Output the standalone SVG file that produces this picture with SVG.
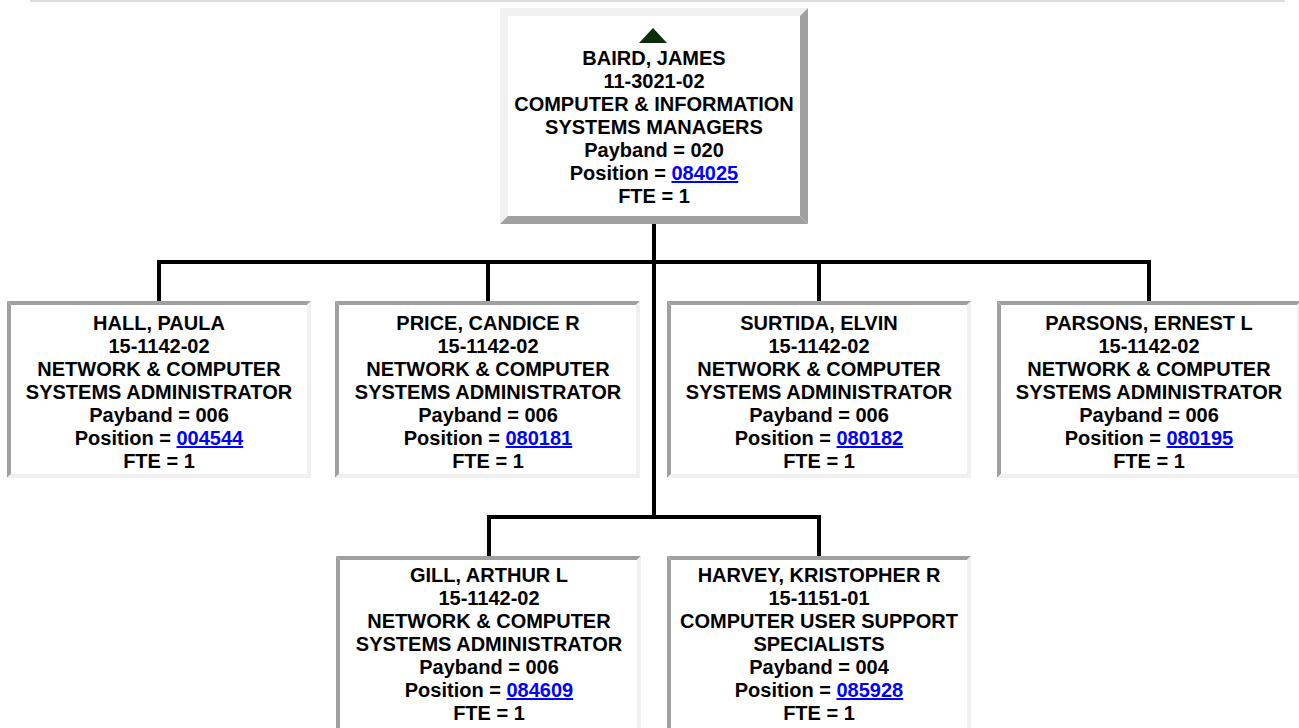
<svg xmlns="http://www.w3.org/2000/svg" width="1299" height="728" viewBox="0 0 1299 728">
<style>
.lt{fill:#f0f0f0}
.dk{fill:#a0a0a0}
.bg{fill:#ffffff}
text{font-family:"Liberation Sans",Arial,sans-serif;font-weight:bold;font-size:20px;fill:#000;text-anchor:middle}
.lnk{fill:#0000ff;text-decoration:underline}
.wire{stroke:#000;stroke-width:4;fill:none}
</style>
<rect x="30" y="0" width="1255" height="2" fill="#dddddd"/>
<g id="connectors">
<line class="wire" x1="654" y1="224" x2="654" y2="519"/>
<line class="wire" x1="157" y1="262" x2="1151" y2="262"/>
<line class="wire" x1="159" y1="262" x2="159" y2="301"/>
<line class="wire" x1="488" y1="262" x2="488" y2="301"/>
<line class="wire" x1="819" y1="262" x2="819" y2="301"/>
<line class="wire" x1="1149" y1="262" x2="1149" y2="301"/>
<line class="wire" x1="487" y1="517" x2="821" y2="517"/>
<line class="wire" x1="489" y1="517" x2="489" y2="556"/>
<line class="wire" x1="819" y1="517" x2="819" y2="556"/>
</g>
<g id="baird">
<rect class="bg" x="500" y="8" width="308" height="216"/>
<polygon class="lt" points="500,8 808,8 800,16 508,16"/>
<polygon class="lt" points="500,8 508,16 508,216 500,224"/>
<polygon class="dk" points="500,224 508,216 800,216 808,224"/>
<polygon class="dk" points="808,8 808,224 800,216 800,16"/>
<polygon points="639,43 653,28 667,43" fill="#0b2e0b"/>
<text x="654" y="65">BAIRD, JAMES</text>
<text x="654" y="88">11-3021-02</text>
<text x="654" y="111">COMPUTER &amp; INFORMATION</text>
<text x="654" y="134">SYSTEMS MANAGERS</text>
<text x="654" y="157">Payband = 020</text>
<text x="654" y="180">Position = <tspan class="lnk">084025</tspan></text>
<text x="654" y="203">FTE = 1</text>
</g>
<g id="hall">
<rect class="bg" x="7" y="301" width="304" height="177"/>
<polygon class="dk" points="7,301 311,301 307,305 11,305"/>
<polygon class="dk" points="7,301 11,305 11,474 7,478"/>
<polygon class="lt" points="7,478 11,474 307,474 311,478"/>
<polygon class="lt" points="311,301 311,478 307,474 307,305"/>
<text x="159" y="330">HALL, PAULA</text>
<text x="159" y="353">15-1142-02</text>
<text x="159" y="376">NETWORK &amp; COMPUTER</text>
<text x="159" y="399">SYSTEMS ADMINISTRATOR</text>
<text x="159" y="422">Payband = 006</text>
<text x="159" y="445">Position = <tspan class="lnk">004544</tspan></text>
<text x="159" y="468">FTE = 1</text>
</g>
<g id="price">
<rect class="bg" x="335" y="301" width="305" height="177"/>
<polygon class="dk" points="335,301 640,301 636,305 339,305"/>
<polygon class="dk" points="335,301 339,305 339,474 335,478"/>
<polygon class="lt" points="335,478 339,474 636,474 640,478"/>
<polygon class="lt" points="640,301 640,478 636,474 636,305"/>
<text x="488" y="330">PRICE, CANDICE R</text>
<text x="488" y="353">15-1142-02</text>
<text x="488" y="376">NETWORK &amp; COMPUTER</text>
<text x="488" y="399">SYSTEMS ADMINISTRATOR</text>
<text x="488" y="422">Payband = 006</text>
<text x="488" y="445">Position = <tspan class="lnk">080181</tspan></text>
<text x="488" y="468">FTE = 1</text>
</g>
<g id="surtida">
<rect class="bg" x="667" y="301" width="304" height="177"/>
<polygon class="dk" points="667,301 971,301 967,305 671,305"/>
<polygon class="dk" points="667,301 671,305 671,474 667,478"/>
<polygon class="lt" points="667,478 671,474 967,474 971,478"/>
<polygon class="lt" points="971,301 971,478 967,474 967,305"/>
<text x="819" y="330">SURTIDA, ELVIN</text>
<text x="819" y="353">15-1142-02</text>
<text x="819" y="376">NETWORK &amp; COMPUTER</text>
<text x="819" y="399">SYSTEMS ADMINISTRATOR</text>
<text x="819" y="422">Payband = 006</text>
<text x="819" y="445">Position = <tspan class="lnk">080182</tspan></text>
<text x="819" y="468">FTE = 1</text>
</g>
<g id="parsons">
<rect class="bg" x="997" y="301" width="304" height="177"/>
<polygon class="dk" points="997,301 1301,301 1297,305 1001,305"/>
<polygon class="dk" points="997,301 1001,305 1001,474 997,478"/>
<polygon class="lt" points="997,478 1001,474 1297,474 1301,478"/>
<polygon class="lt" points="1301,301 1301,478 1297,474 1297,305"/>
<text x="1149" y="330">PARSONS, ERNEST L</text>
<text x="1149" y="353">15-1142-02</text>
<text x="1149" y="376">NETWORK &amp; COMPUTER</text>
<text x="1149" y="399">SYSTEMS ADMINISTRATOR</text>
<text x="1149" y="422">Payband = 006</text>
<text x="1149" y="445">Position = <tspan class="lnk">080195</tspan></text>
<text x="1149" y="468">FTE = 1</text>
</g>
<g id="gill">
<rect class="bg" x="336" y="556" width="305" height="177"/>
<polygon class="dk" points="336,556 641,556 637,560 340,560"/>
<polygon class="dk" points="336,556 340,560 340,729 336,733"/>
<polygon class="lt" points="641,556 641,733 637,729 637,560"/>
<text x="489" y="582">GILL, ARTHUR L</text>
<text x="489" y="605">15-1142-02</text>
<text x="489" y="628">NETWORK &amp; COMPUTER</text>
<text x="489" y="651">SYSTEMS ADMINISTRATOR</text>
<text x="489" y="674">Payband = 006</text>
<text x="489" y="697">Position = <tspan class="lnk">084609</tspan></text>
<text x="489" y="720">FTE = 1</text>
</g>
<g id="harvey">
<rect class="bg" x="667" y="556" width="304" height="177"/>
<polygon class="dk" points="667,556 971,556 967,560 671,560"/>
<polygon class="dk" points="667,556 671,560 671,729 667,733"/>
<polygon class="lt" points="971,556 971,733 967,729 967,560"/>
<text x="819" y="582">HARVEY, KRISTOPHER R</text>
<text x="819" y="605">15-1151-01</text>
<text x="819" y="628">COMPUTER USER SUPPORT</text>
<text x="819" y="651">SPECIALISTS</text>
<text x="819" y="674">Payband = 004</text>
<text x="819" y="697">Position = <tspan class="lnk">085928</tspan></text>
<text x="819" y="720">FTE = 1</text>
</g>
</svg>
